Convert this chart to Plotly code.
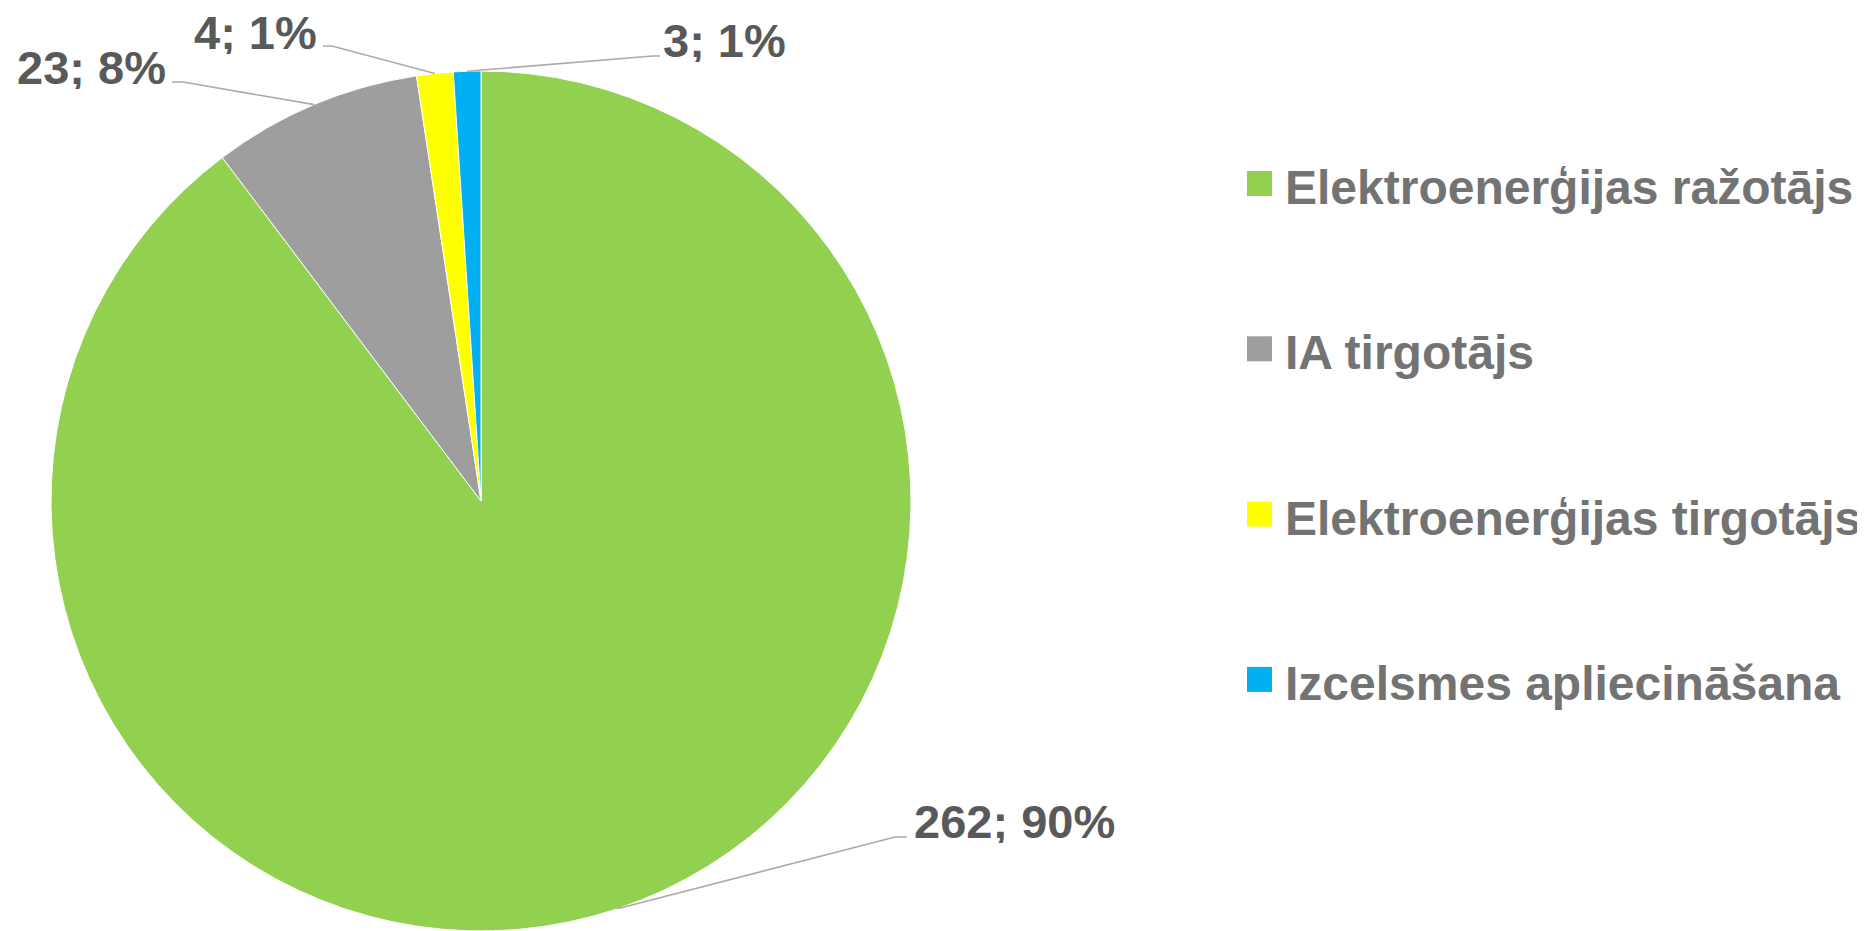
import math
import plotly.graph_objects as go

# ---- data ----
categories = ["Elektroenerģijas ražotājs", "IA tirgotājs",
              "Elektroenerģijas tirgotājs", "Izcelsmes apliecināšana"]
values = [262, 23, 4, 3]
colors = ["#92D050", "#9E9E9E", "#FFFF00", "#00B0F0"]

W, H = 1865, 931
OFF = 8  # page body margin: figure is drawn 8px right/down of the page origin
# pie geometry (page pixels)
CX, CY, R = 481, 501, 430

# label layout (page pixels): elbow point, end point, text x, text baseline, anchor
label_layout = [
    dict(elbow=(895, 837), end=(907, 837), tx=912, base=838, anchor="left"),
    dict(elbow=(183, 82), end=(172, 82), tx=168, base=84, anchor="right"),
    dict(elbow=(332, 46), end=(323, 46), tx=319, base=49, anchor="right"),
    dict(elbow=(653, 56), end=(660, 56), tx=661, base=57, anchor="left"),
]

LABEL_FONT = 47
LEGEND_FONT = 48


def px(x):
    return (x - OFF) / W


def py(y):
    return 1 - (y - OFF) / H


fig = go.Figure()
fig.add_trace(go.Pie(
    labels=categories,
    values=values,
    sort=False,
    direction="clockwise",
    rotation=0,
    marker=dict(colors=colors, line=dict(color="white", width=1)),
    textinfo="none",
    hoverinfo="label+value+percent",
    showlegend=False,
    domain=dict(x=[px(CX - R), px(CX + R)], y=[max(0, py(CY + R)), py(CY - R)]),
))

total = sum(values)
shapes = []
annotations = []
cum = 0
for v, lay in zip(values, label_layout):
    mid = (cum + v / 2) / total * 2 * math.pi
    cum += v
    sx = CX + R * math.sin(mid)
    sy = CY - R * math.cos(mid)
    ex, ey = lay["elbow"]
    fx, fy = lay["end"]
    shapes.append(dict(
        type="path", xref="paper", yref="paper",
        path=f"M {px(sx)},{py(sy)} L {px(ex)},{py(ey)} L {px(fx)},{py(fy)}",
        line=dict(color="#ABABAB", width=1.6),
    ))
    pct = round(v / total * 100)
    annotations.append(dict(
        xref="paper", yref="paper",
        x=px(lay["tx"]), y=py(lay["base"] - 17),
        xanchor=lay["anchor"], yanchor="middle",
        height=44, valign="middle",
        text=f"<b>{v}; {pct}%</b>", showarrow=False,
        font=dict(family="Liberation Sans, Arial, sans-serif",
                  size=LABEL_FONT, color="#595959"),
    ))

# custom legend
LEG_X0, LEG_SQ = 1247, 25
LEG_Y0, LEG_DY = 183.5, 165.3
for i, (cat, col) in enumerate(zip(categories, colors)):
    yc = LEG_Y0 + i * LEG_DY
    shapes.append(dict(
        type="rect", xref="paper", yref="paper",
        x0=px(LEG_X0), x1=px(LEG_X0 + LEG_SQ),
        y0=py(yc + LEG_SQ / 2), y1=py(yc - LEG_SQ / 2),
        fillcolor=col, line=dict(width=0),
    ))
    annotations.append(dict(
        xref="paper", yref="paper",
        x=px(1283), y=py(yc + 4),
        xanchor="left", yanchor="middle",
        text=f"<b>{cat}</b>", showarrow=False,
        font=dict(family="Liberation Sans, Arial, sans-serif",
                  size=LEGEND_FONT, color="#737373"),
    ))

fig.update_layout(
    width=W, height=H,
    margin=dict(l=0, r=0, t=0, b=0),
    paper_bgcolor="white", plot_bgcolor="white",
    shapes=shapes, annotations=annotations,
    showlegend=False,
)

fig.write_html("out.html")
